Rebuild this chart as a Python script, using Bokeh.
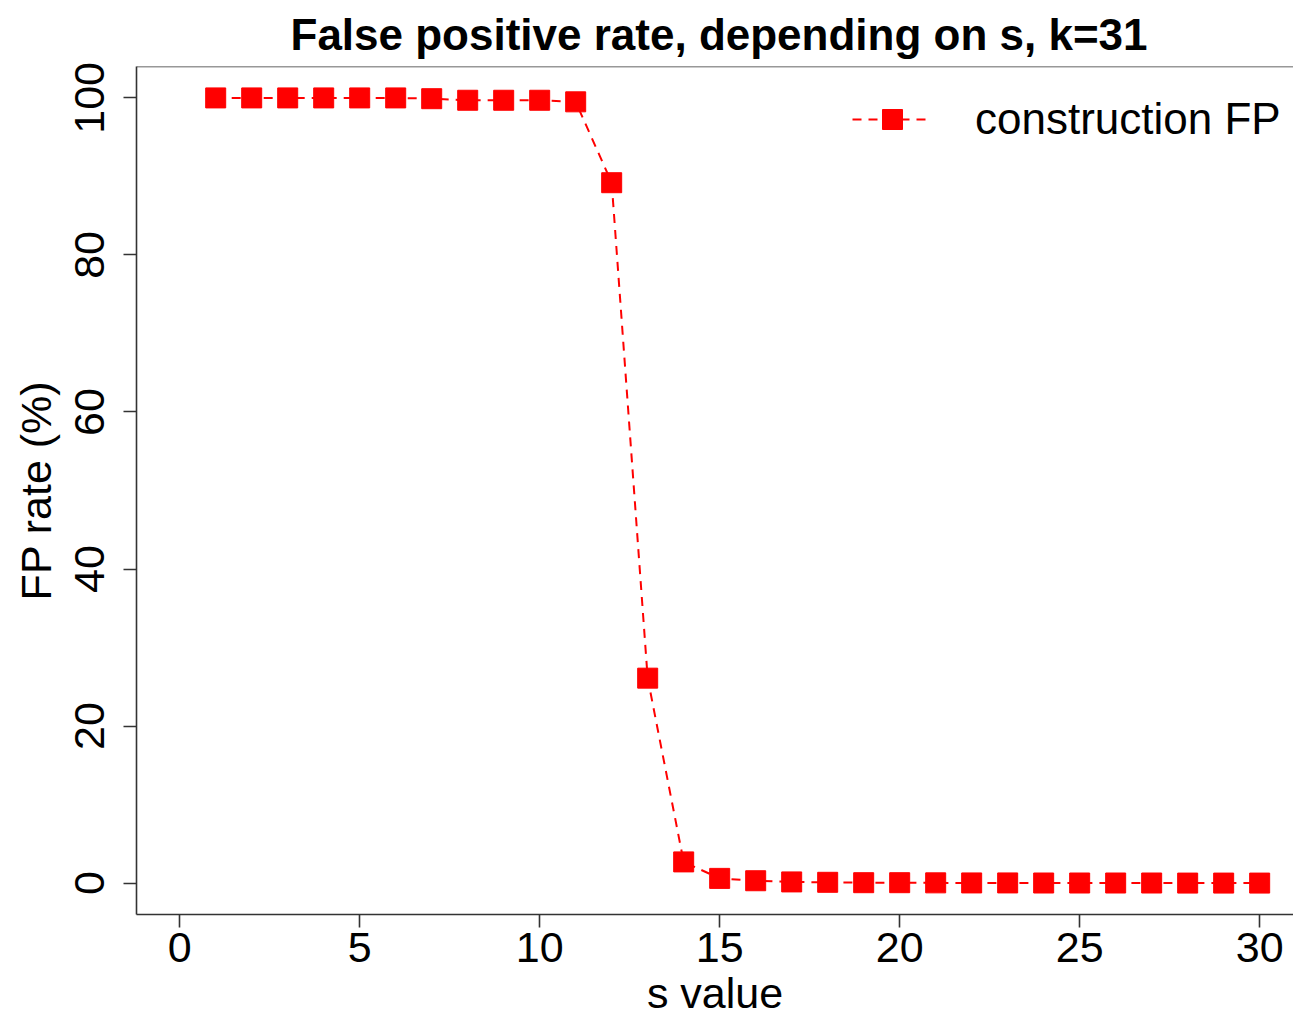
from bokeh.plotting import figure
from bokeh.models import FixedTicker, Range1d, Legend, LegendItem, Span
from bokeh.embed import file_html
from bokeh.resources import INLINE

# ---- data ----
s_values = list(range(1, 31))
fp_rate = [100, 100, 100, 100, 100, 100, 99.9, 99.7, 99.7, 99.7,
           99.5, 89.2, 26.1, 2.7, 0.6, 0.3, 0.15, 0.1, 0.05, 0.05,
           0.03, 0.02, 0.02, 0.01, 0.01, 0.01, 0.01, 0.0, 0.0, 0.0]
x_ticks = [0, 5, 10, 15, 20, 25, 30]
y_ticks = [0, 20, 40, 60, 80, 100]
title_text = "False positive rate, depending on s, k=31"
x_label = "s value"
y_label = "FP rate (%)"
series_name = "construction FP"

FONT = "Liberation Sans"
AXIS_COLOR = "#333333"

p = figure(width=1293, height=1020, output_backend="svg", toolbar_location=None,
           x_range=Range1d(-1.2, 30.94), y_range=Range1d(-4, 104),
           min_border_left=136, min_border_top=66, min_border_bottom=106,
           min_border_right=0)

p.background_fill_color = "white"
p.border_fill_color = "white"
p.outline_line_color = None
p.grid.visible = False

# title
p.title.text = title_text
p.title.text_font = FONT
p.title.text_font_size = "44px"
p.title.text_font_style = "bold"
p.title.text_color = "black"
p.title.align = "left"
p.title.offset = 154
p.title.standoff = 15

# axes
for ax in (p.xaxis[0], p.yaxis[0]):
    ax.axis_line_color = AXIS_COLOR
    ax.axis_line_width = 1.6
    ax.major_tick_line_color = AXIS_COLOR
    ax.major_tick_line_width = 1.6
    ax.major_tick_out = 13
    ax.major_tick_in = 0
    ax.minor_tick_line_color = None
    ax.major_label_text_font = FONT
    ax.major_label_text_font_size = "43px"
    ax.major_label_text_color = "black"
    ax.axis_label_text_font = FONT
    ax.axis_label_text_font_size = "43px"
    ax.axis_label_text_font_style = "normal"
    ax.axis_label_text_color = "black"

p.xaxis.ticker = FixedTicker(ticks=x_ticks)
p.yaxis.ticker = FixedTicker(ticks=y_ticks)
p.xaxis.axis_label = x_label
p.yaxis.axis_label = y_label
p.xaxis.major_label_standoff = 5
p.xaxis.axis_label_standoff = 4
p.yaxis.major_label_orientation = "vertical"
p.yaxis.major_label_standoff = 19
p.yaxis.axis_label_standoff = 13

# top frame border
p.add_layout(Span(location=p.y_range.end, dimension="width",
                  line_color=AXIS_COLOR, line_width=1.6))

# data
line = p.line(s_values, fp_rate, line_color="red", line_width=2, line_dash="9 7")
pts = p.scatter(s_values, fp_rate, marker="square", size=20,
                fill_color="red", line_color="red")

legend = Legend(items=[LegendItem(label=series_name, renderers=[line, pts])],
                location=(716, 770), glyph_width=80, glyph_height=50,
                label_standoff=43, padding=0, margin=0, spacing=0,
                border_line_color=None, background_fill_alpha=0,
                label_text_font=FONT, label_text_font_size="44px",
                label_text_color="black")
p.add_layout(legend, "center")

open("out.html", "w").write(file_html(p, INLINE))
